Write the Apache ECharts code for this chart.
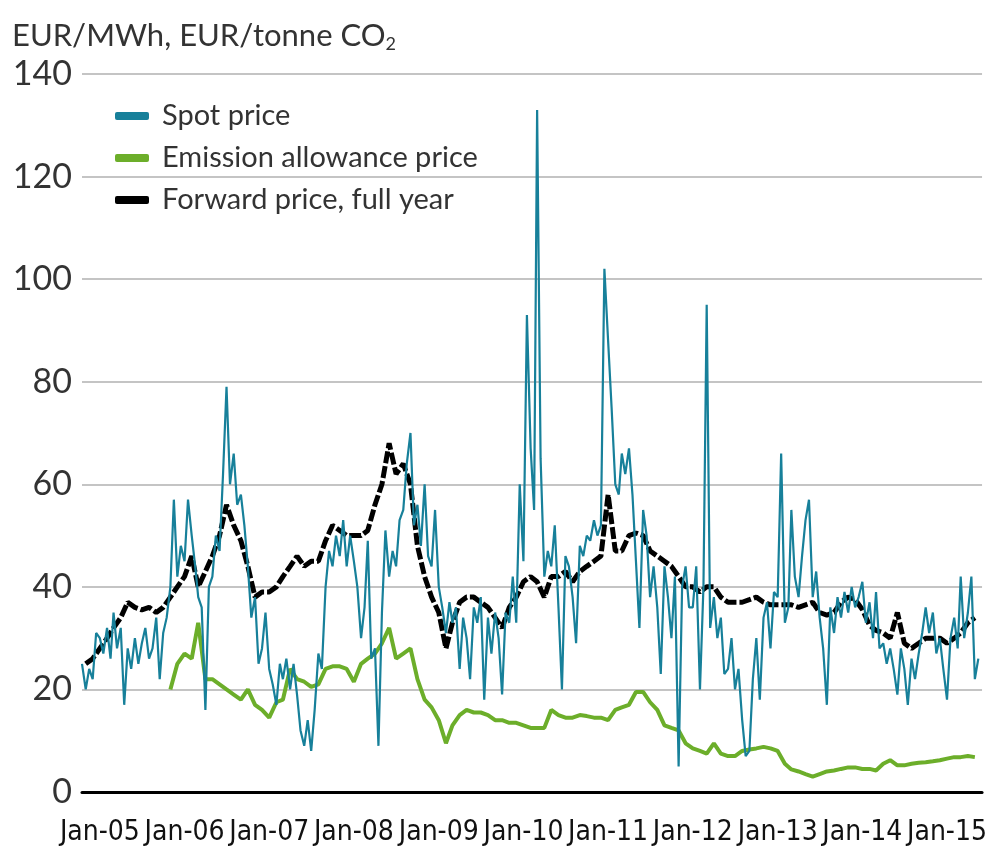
<!DOCTYPE html>
<html>
<head>
<meta charset="utf-8">
<title>Spot, forward and emission allowance prices</title>
<script src="https://cdn.jsdelivr.net/npm/echarts@6/dist/echarts.min.js"></script>
<style>
  html, body { margin: 0; padding: 0; background: #fff; }
  #chart { width: 990px; height: 847px; }
</style>
</head>
<body>
<div id="chart"></div>
<script>
// x axis: first of January each year
const xTickDates = ['2005-01-01', '2006-01-01', '2007-01-01', '2008-01-01', '2009-01-01', '2010-01-01',
  '2011-01-01', '2012-01-01', '2013-01-01', '2014-01-01', '2015-01-01'];
const xTickLabels = ['Jan-05', 'Jan-06', 'Jan-07', 'Jan-08', 'Jan-09', 'Jan-10',
  'Jan-11', 'Jan-12', 'Jan-13', 'Jan-14', 'Jan-15'];

// spot price is read twice a month, forward and emission price once a month
const halfMonths = ['01-01', '01-16', '02-01', '02-16', '03-01', '03-16', '04-01', '04-16',
  '05-01', '05-16', '06-01', '06-16', '07-01', '07-16', '08-01', '08-16',
  '09-01', '09-16', '10-01', '10-16', '11-01', '11-16', '12-01', '12-16'];
const months = ['01-01', '02-01', '03-01', '04-01', '05-01', '06-01',
  '07-01', '08-01', '09-01', '10-01', '11-01', '12-01'];

// Spot price, EUR/MWh
const spot2004 = [25, 20, 24, 22, 31]; // from 16 Oct
const spot2005 = [30, 27, 32, 26, 35, 28, 32, 17, 28, 24, 30, 25, 29, 32, 26, 28, 34, 22, 31, 34, 40, 57, 42, 48];
const spot2006 = [45, 57, 50, 44, 38, 36, 16, 40, 42, 50, 47, 62, 79, 60, 66, 56, 58, 52, 44, 34, 38, 25, 28, 35];
const spot2007 = [24, 21, 17, 25, 22, 26, 20, 25, 19, 12, 9, 14, 8, 16, 27, 24, 40, 47, 44, 50, 46, 53, 44, 50];
const spot2008 = [45, 40, 30, 36, 49, 26, 28, 9, 35, 51, 42, 47, 44, 53, 55, 64, 70, 52, 56, 48, 60, 46, 44, 55];
const spot2009 = [40, 36, 31, 37, 33, 36, 24, 34, 30, 22, 36, 33, 38, 18, 34, 27, 35, 30, 19, 35, 33, 42, 33, 60];
const spot2010 = [45, 93, 67, 55, 133, 65, 42, 47, 44, 52, 36, 20, 46, 44, 38, 29, 48, 46, 50, 49, 53, 50, 52, 102];
const spot2011 = [88, 75, 60, 58, 66, 62, 67, 58, 45, 32, 55, 50, 38, 44, 36, 23, 44, 38, 30, 42, 5, 40, 44, 36];
const spot2012 = [36, 44, 20, 40, 95, 32, 38, 30, 34, 23, 24, 30, 20, 24, 14, 7, 8, 22, 30, 18, 34, 37, 28, 39];
const spot2013 = [38, 66, 33, 36, 55, 42, 38, 46, 53, 57, 38, 43, 34, 28, 17, 36, 31, 38, 34, 39, 35, 40, 36, 38];
const spot2014 = [41, 33, 37, 30, 39, 28, 29, 25, 28, 24, 19, 28, 24, 17, 26, 22, 27, 31, 36, 31, 35, 27, 30, 24];
const spot2015 = [18, 30, 34, 28, 42, 30, 35, 42, 22, 26]; // to 16 May

// Emission allowance price, EUR/tonne CO2
const emission2005 = [20, 25]; // from Nov
const emission2006 = [27, 26, 33, 22, 22, 21, 20, 19, 18, 20, 17, 16];
const emission2007 = [14.5, 17.5, 18, 24, 22, 21.5, 20.5, 21, 24, 24.5, 24.5, 24];
const emission2008 = [21.5, 25, 26, 27, 29, 32, 26, 27, 28, 22, 18, 16.5];
const emission2009 = [14, 9.5, 13, 15, 16, 15.5, 15.5, 15, 14, 14, 13.5, 13.5];
const emission2010 = [13, 12.5, 12.5, 12.5, 16, 15, 14.5, 14.5, 15, 14.8, 14.5, 14.5];
const emission2011 = [14, 16, 16.5, 17, 19.5, 19.5, 17.5, 16, 13, 12.5, 12, 9.5];
const emission2012 = [8.5, 8, 7.5, 9.5, 7.5, 7, 7, 8, 8.3, 8.5, 8.8, 8.5];
const emission2013 = [8, 5.5, 4.4, 4, 3.5, 3, 3.5, 4, 4.2, 4.5, 4.8, 4.8];
const emission2014 = [4.5, 4.5, 4.2, 5.5, 6.2, 5.2, 5.2, 5.5, 5.7, 5.8, 6, 6.2];
const emission2015 = [6.5, 6.8, 6.8, 7, 6.8];

// Forward price, full year, EUR/MWh
const forward2004 = [25, 26]; // from Nov
const forward2005 = [28, 30, 32, 34, 37, 36, 35.5, 36, 35, 36, 38, 40];
const forward2006 = [42, 46, 40, 43, 46, 50, 56, 52, 49, 44, 38, 39];
const forward2007 = [39, 40, 42, 44, 46, 44, 45, 45, 49, 52, 51, 50];
const forward2008 = [50, 50, 51, 56, 60, 68, 62, 64, 60, 48, 42, 38];
const forward2009 = [35, 28, 33, 37, 38, 38, 37, 36, 34, 32, 36, 38];
const forward2010 = [41, 42, 41, 38, 42, 42, 43, 41, 43, 44, 45, 46];
const forward2011 = [58, 47, 47, 50, 50.5, 50, 47, 46, 45, 44, 42, 40];
const forward2012 = [40, 39, 40, 40, 38, 37, 37, 37, 37.5, 38, 37, 36.5];
const forward2013 = [36.5, 36.5, 36.5, 36, 36.5, 37, 35, 34.5, 35, 37, 38, 37.5];
const forward2014 = [35.6, 32.5, 31.5, 31, 30, 35, 29, 28, 29, 30, 30, 30];
const forward2015 = [29, 30, 31, 33, 34];

const ts = d => new Date(d).getTime();

function pairs(year, steps, first, values) {
  return values.map((v, i) => [ts(year + '-' + steps[first + i]), v]);
}

const spotData = [].concat(
  pairs(2004, halfMonths, 19, spot2004), pairs(2005, halfMonths, 0, spot2005),
  pairs(2006, halfMonths, 0, spot2006), pairs(2007, halfMonths, 0, spot2007),
  pairs(2008, halfMonths, 0, spot2008), pairs(2009, halfMonths, 0, spot2009),
  pairs(2010, halfMonths, 0, spot2010), pairs(2011, halfMonths, 0, spot2011),
  pairs(2012, halfMonths, 0, spot2012), pairs(2013, halfMonths, 0, spot2013),
  pairs(2014, halfMonths, 0, spot2014), pairs(2015, halfMonths, 0, spot2015)
);
const emissionData = [].concat(
  pairs(2005, months, 10, emission2005), pairs(2006, months, 0, emission2006),
  pairs(2007, months, 0, emission2007), pairs(2008, months, 0, emission2008),
  pairs(2009, months, 0, emission2009), pairs(2010, months, 0, emission2010),
  pairs(2011, months, 0, emission2011), pairs(2012, months, 0, emission2012),
  pairs(2013, months, 0, emission2013), pairs(2014, months, 0, emission2014),
  pairs(2015, months, 0, emission2015)
);
const forwardData = [].concat(
  pairs(2004, months, 10, forward2004), pairs(2005, months, 0, forward2005),
  pairs(2006, months, 0, forward2006), pairs(2007, months, 0, forward2007),
  pairs(2008, months, 0, forward2008), pairs(2009, months, 0, forward2009),
  pairs(2010, months, 0, forward2010), pairs(2011, months, 0, forward2011),
  pairs(2012, months, 0, forward2012), pairs(2013, months, 0, forward2013),
  pairs(2014, months, 0, forward2014), pairs(2015, months, 0, forward2015)
);

const tickTimes = xTickDates.map(ts);
const font = 'Lato, "Open Sans", sans-serif';
const teal = '#17809a';
const green = '#6cae2a';

const chart = echarts.init(document.getElementById('chart'));
chart.setOption({
  animation: false,
  graphic: [{
    type: 'text',
    left: 12,
    top: 20,
    style: {
      text: '{a|EUR/MWh, EUR/tonne CO}{s|2}',
      rich: {
        a: { fontSize: 31, lineHeight: 36, fontFamily: font, fill: '#333' },
        s: { fontSize: 18, lineHeight: 10, verticalAlign: 'bottom', fontFamily: font, fill: '#333' }
      }
    }
  }],
  legend: {
    orient: 'vertical',
    left: 110,
    top: 96,
    icon: 'roundRect',
    itemWidth: 34,
    itemHeight: 8,
    itemGap: 12,
    itemStyle: { borderWidth: 0 },
    data: ['Spot price', 'Emission allowance price', 'Forward price, full year'],
    textStyle: { fontSize: 29, lineHeight: 30, color: '#333', fontFamily: font, padding: [0, 0, 0, 8] }
  },
  grid: { left: 82, right: 5, top: 74, bottom: 55 },
  xAxis: {
    type: 'value',
    min: ts('2004-10-16'),
    max: ts('2015-06-01'),
    axisLine: { lineStyle: { color: '#000', width: 3 } },
    axisTick: { show: false },
    splitLine: { show: false },
    axisLabel: {
      customValues: tickTimes,
      formatter: v => xTickLabels[tickTimes.indexOf(v)],
      margin: 27,
      fontSize: 28,
      color: '#111',
      fontFamily: '"Liberation Sans Narrow", "DejaVu Sans Condensed", sans-serif'
    }
  },
  yAxis: {
    type: 'value',
    min: 0,
    max: 140,
    interval: 20,
    axisLine: { show: false },
    axisTick: { show: false },
    splitLine: { lineStyle: { color: '#b0b0b0', width: 1.5 } },
    axisLabel: { fontSize: 34, color: '#333', margin: 10, fontFamily: font }
  },
  series: [
    {
      name: 'Emission allowance price',
      type: 'line',
      data: emissionData,
      showSymbol: false,
      color: green,
      lineStyle: { width: 4, color: green },
      z: 2
    },
    {
      name: 'Forward price, full year',
      type: 'line',
      data: forwardData,
      showSymbol: false,
      color: '#000',
      lineStyle: { width: 5, color: '#000', type: [12, 3] },
      z: 3
    },
    {
      name: 'Spot price',
      type: 'line',
      data: spotData,
      showSymbol: false,
      color: teal,
      lineStyle: { width: 2.2, color: teal },
      z: 4
    }
  ]
});
</script>
</body>
</html>
